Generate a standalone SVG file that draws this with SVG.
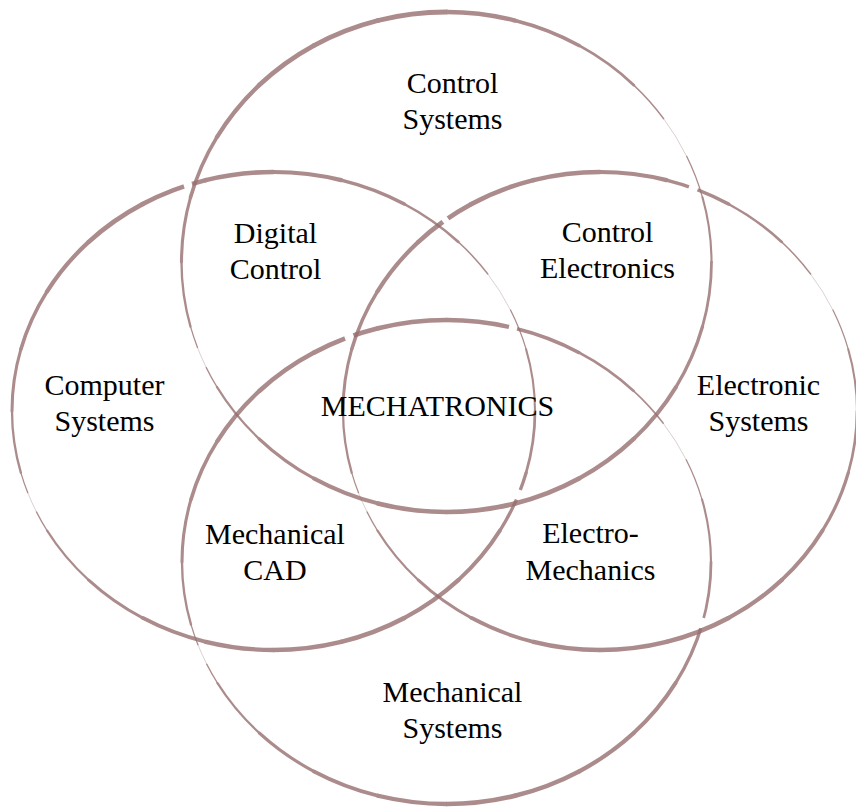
<svg xmlns="http://www.w3.org/2000/svg" xmlns:xlink="http://www.w3.org/1999/xlink" width="856" height="807" viewBox="0 0 856 807">
<style>
.seg{fill:none;stroke:#976f6f;stroke-linecap:round}
.ringuse{opacity:0.8}
.gap{fill:none;stroke:#ffffff;stroke-width:7;stroke-linecap:butt}
.lbl{font-family:"Liberation Serif","Times New Roman",serif;font-size:30px;fill:#000;text-anchor:middle}
</style>
<defs>
<g id="ring" class="seg">
<path d="M250 0 A250 250 0 0 1 241.48 64.70" stroke-width="2.6"/>
<path d="M241.48 64.70 A250 250 0 0 1 216.51 125" stroke-width="3.2"/>
<path d="M216.51 125 A250 250 0 0 1 176.78 176.78" stroke-width="3.8"/>
<path d="M176.78 176.78 A250 250 0 0 1 125 216.51" stroke-width="4.3"/>
<path d="M125 216.51 A250 250 0 0 1 64.70 241.48" stroke-width="4.6"/>
<path d="M64.70 241.48 A250 250 0 0 1 0 250" stroke-width="4.7"/>
<path d="M0 250 A250 250 0 0 1 -64.70 241.48" stroke-width="4.5"/>
<path d="M-64.70 241.48 A250 250 0 0 1 -125 216.51" stroke-width="3.9"/>
<path d="M-125 216.51 A250 250 0 0 1 -176.78 176.78" stroke-width="3.1"/>
<path d="M-176.78 176.78 A250 250 0 0 1 -216.51 125" stroke-width="2.2"/>
<path d="M-216.51 125 A250 250 0 0 1 -226.58 105.65" stroke-width="1.3"/>
<path d="M-226.58 105.65 A250 250 0 0 1 -234.92 85.51" stroke-width="0.4"/>
<path d="M-234.92 85.51 A250 250 0 0 1 -241.48 64.70" stroke-width="1.2"/>
<path d="M-241.48 64.70 A250 250 0 0 1 -250 0" stroke-width="2.2"/>
<path d="M-250 0 A250 250 0 0 1 -241.48 -64.70" stroke-width="2.9"/>
<path d="M-241.48 -64.70 A250 250 0 0 1 -216.51 -125" stroke-width="3.5"/>
<path d="M-216.51 -125 A250 250 0 0 1 -176.78 -176.78" stroke-width="4.1"/>
<path d="M-176.78 -176.78 A250 250 0 0 1 -125 -216.51" stroke-width="4.6"/>
<path d="M-125 -216.51 A250 250 0 0 1 -64.70 -241.48" stroke-width="4.8"/>
<path d="M-64.70 -241.48 A250 250 0 0 1 0 -250" stroke-width="4.8"/>
<path d="M0 -250 A250 250 0 0 1 64.70 -241.48" stroke-width="4.4"/>
<path d="M64.70 -241.48 A250 250 0 0 1 125 -216.51" stroke-width="3.6"/>
<path d="M125 -216.51 A250 250 0 0 1 176.78 -176.78" stroke-width="2.6"/>
<path d="M176.78 -176.78 A250 250 0 0 1 204.79 -143.39" stroke-width="1.5"/>
<path d="M204.79 -143.39 A250 250 0 0 1 226.58 -105.65" stroke-width="0.4"/>
<path d="M226.58 -105.65 A250 250 0 0 1 241.48 -64.70" stroke-width="1.2"/>
<path d="M241.48 -64.70 A250 250 0 0 1 250 0" stroke-width="2.0"/>
</g>
</defs>
<rect width="856" height="807" fill="#ffffff"/>
<g id="connectors"/>
<g id="node-mechanical-systems">
<use class="ringuse" xlink:href="#ring" href="#ring" transform="translate(446.5,562) scale(1.058,0.968)"/>
<text class="lbl" x="452.5" y="702">Mechanical</text>
<text class="lbl" x="452.5" y="738">Systems</text>
</g>
<g id="node-computer-systems">
<path class="gap" d="M509 326.9 L517 328.8"/>
<use class="ringuse" xlink:href="#ring" href="#ring" transform="translate(273.5,411) scale(1.046,0.956)"/>
<text class="lbl" x="104.5" y="395">Computer</text>
<text class="lbl" x="104.5" y="431">Systems</text>
</g>
<g id="node-electronic-systems">
<path class="gap" d="M345 338.5 L353.5 335.5"/>
<path class="gap" d="M703.8 618 L701 628.3"/>
<use class="ringuse" xlink:href="#ring" href="#ring" transform="translate(600,411) scale(1.028,0.956)"/>
<path class="gap" d="M443 222 L448 218.4"/>
<text class="lbl" x="758.5" y="395">Electronic</text>
<text class="lbl" x="758.5" y="431">Systems</text>
</g>
<g id="node-control-systems">
<path class="gap" d="M184 186.4 L192 183.9"/>
<path class="gap" d="M689 186.7 L697.5 189.9"/>
<path class="gap" d="M520.3 490 L516.4 499.5"/>
<use class="ringuse" xlink:href="#ring" href="#ring" transform="translate(446.5,262) scale(1.06,1)"/>
<text class="lbl" x="452.5" y="93">Control</text>
<text class="lbl" x="452.5" y="129">Systems</text>
</g>
<g id="node-digital-control">
<text class="lbl" x="275.5" y="243">Digital</text>
<text class="lbl" x="275.5" y="279">Control</text>
</g>
<g id="node-control-electronics">
<text class="lbl" x="607.5" y="242">Control</text>
<text class="lbl" x="607.5" y="278">Electronics</text>
</g>
<g id="node-mechanical-cad">
<text class="lbl" x="275" y="544">Mechanical</text>
<text class="lbl" x="275" y="580">CAD</text>
</g>
<g id="node-electro-mechanics">
<text class="lbl" x="590.5" y="543">Electro-</text>
<text class="lbl" x="590.5" y="580">Mechanics</text>
</g>
<g id="node-mechatronics">
<text class="lbl" x="437.5" y="416">MECHATRONICS</text>
</g>
</svg>
